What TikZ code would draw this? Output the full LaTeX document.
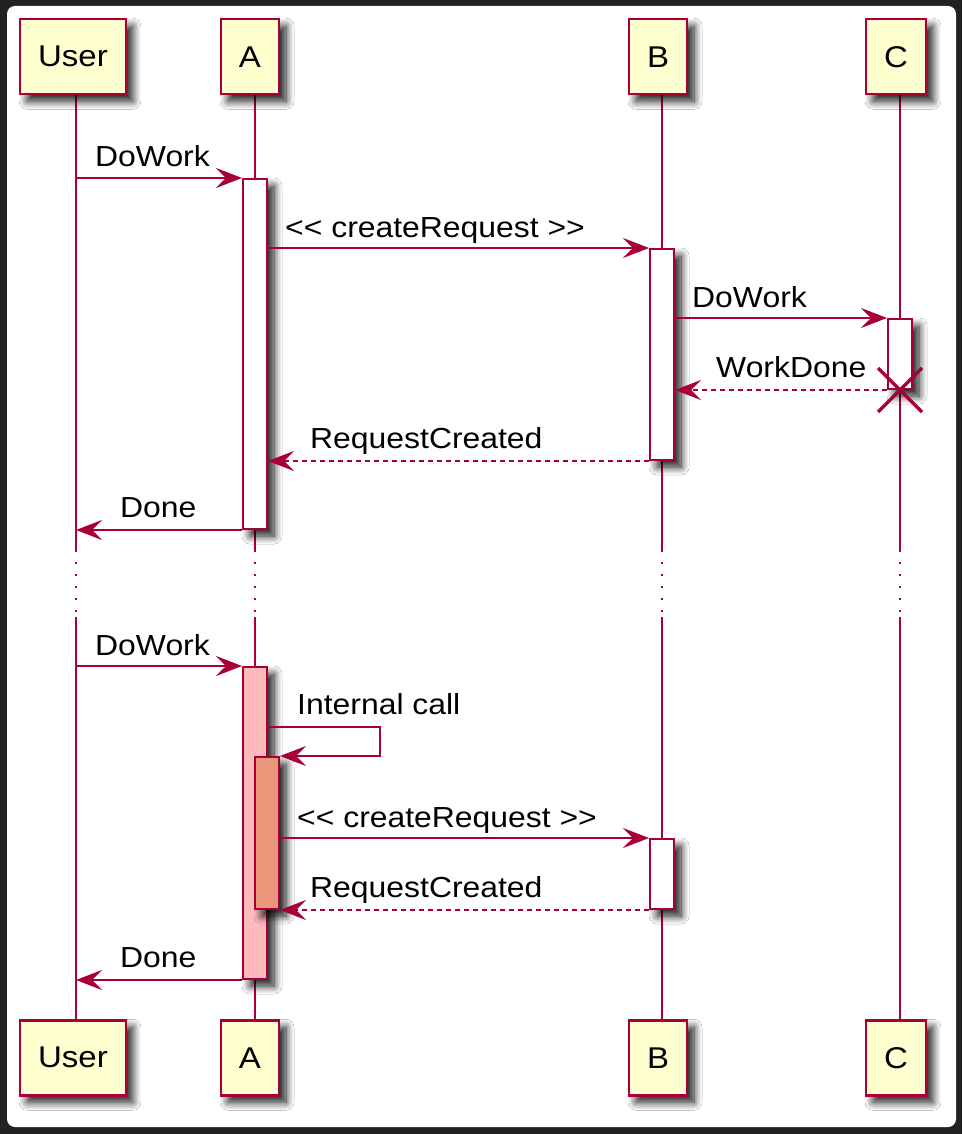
\documentclass[tikz,border=0pt]{standalone}
\usepackage{fontspec}
\setmainfont[FakeStretch=1.1]{Liberation Sans}
\usetikzlibrary{arrows.meta,shadows.blur}

\definecolor{umlred}{HTML}{A80036}
\definecolor{umlyellow}{HTML}{FEFECE}
\definecolor{actpink}{HTML}{FFBBBB}
\definecolor{actsalmon}{HTML}{E9967A}
\definecolor{framegray}{HTML}{222222}

\tikzset{
  shade/.style={blur shadow={shadow xshift=7pt, shadow yshift=-7pt, shadow blur radius=8pt, shadow blur steps=10, shadow opacity=90}},
  part/.style={draw=umlred, fill=umlyellow, line width=2.5pt, minimum height=75pt, inner xsep=18pt, anchor=north, font=\fontsize{30}{36}\selectfont, shade},
  life/.style={draw=umlred, line width=2pt},
  gap/.style={life, dash pattern=on 2pt off 10pt, dash phase=2pt},
  act/.style={draw=umlred, fill=white, line width=2pt, minimum width=24pt, inner sep=0pt, shade},
  msg/.style={draw=umlred, line width=2pt, -{Stealth[length=26pt,width=20pt,inset=10pt]}},
  reply/.style={msg, dash pattern=on 5pt off 4pt},
  lbl/.style={anchor=base west, inner sep=0pt, font=\fontsize{29}{35}\selectfont},
  kill/.style={draw=umlred, line width=3.5pt}
}

\begin{document}
\begin{tikzpicture}[x=1pt, y=-1pt]
    \fill[framegray] (0,0) rectangle (962,1134);
    \fill[white, rounded corners=8pt] (7,6) rectangle (956,1127);

    \foreach \n/\x in {user/76,a/255,b/662,c/900} {
        \coordinate (\n-top) at (\x,93);
        \coordinate (\n-brk) at (\x,552);
        \coordinate (\n-cont) at (\x,617);
        \coordinate (\n-bot) at (\x,1019);
        \draw[life] (\n-top) -- (\n-brk);
        \draw[gap] (\n-brk) -- (\n-cont);
        \draw[life] (\n-cont) -- (\n-bot);
    }

    \node[part] (userT) at (73,18) {User};
    \node[part] (aT) at (250,18) {A};
    \node[part] (bT) at (658,18) {B};
    \node[part] (cT) at (896,18) {C};
    \node[part] (userB) at (73,1019) {User};
    \node[part] (aB) at (250,1019) {A};
    \node[part] (bB) at (658,1019) {B};
    \node[part] (cB) at (896,1019) {C};

    \node[act, minimum height=350pt] (actA1) at (255,354) {};
    \node[act, minimum height=211pt] (actB1) at (662,354.5) {};
    \node[act, minimum height=70pt] (actC1) at (900,354) {};
    \node[act, fill=actpink, minimum height=312pt] (actA2) at (255,823) {};
    \node[act, fill=actsalmon, minimum height=152pt] (actA3) at (267,833) {};
    \node[act, minimum height=70pt] (actB2) at (662,874) {};

    \draw[msg] (actA1.north west -| user-top) -- (actA1.north west);
    \draw[msg] (actA1.east |- actB1.north) -- (actB1.north west);
    \draw[msg] (actB1.east |- actC1.north) -- (actC1.north west);
    \draw[reply] (actC1.south west) -- (actB1.east |- actC1.south);
    \draw[kill] (actC1.south) +(-22,-22) -- +(22,22) +(-22,22) -- +(22,-22);
    \draw[reply] (actB1.south west) -- (actA1.east |- actB1.south);
    \draw[msg] (actA1.south west) -- (actA1.south west -| user-top);

    \draw[msg] (actA2.north west -| user-top) -- (actA2.north west);
    \coordinate (selfR) at (380,727);
    \draw[msg] (actA2.east |- selfR) -- (selfR) |- (actA3.north east);
    \draw[msg] (actA3.east |- actB2.north) -- (actB2.north west);
    \draw[reply] (actB2.south west) -- (actA3.south east);
    \draw[msg] (actA2.south west) -- (actA2.south west -| user-top);

    \node[lbl] (l1) at (95,167) {DoWork};
    \node[lbl] (l2) at (285,237) {<{}< createRequest >{}>};
    \node[lbl] (l3) at (692,307) {DoWork};
    \node[lbl] (l4) at (716,377) {WorkDone};
    \node[lbl] (l5) at (310,448) {RequestCreated};
    \node[lbl] (l6) at (120,517) {Done};
    \node[lbl] (l7) at (95,655) {DoWork};
    \node[lbl] (l8) at (297,714) {Internal call};
    \node[lbl] (l9) at (297,827) {<{}< createRequest >{}>};
    \node[lbl] (l10) at (310,897) {RequestCreated};
    \node[lbl] (l11) at (120,967) {Done};
\end{tikzpicture}
\end{document}
